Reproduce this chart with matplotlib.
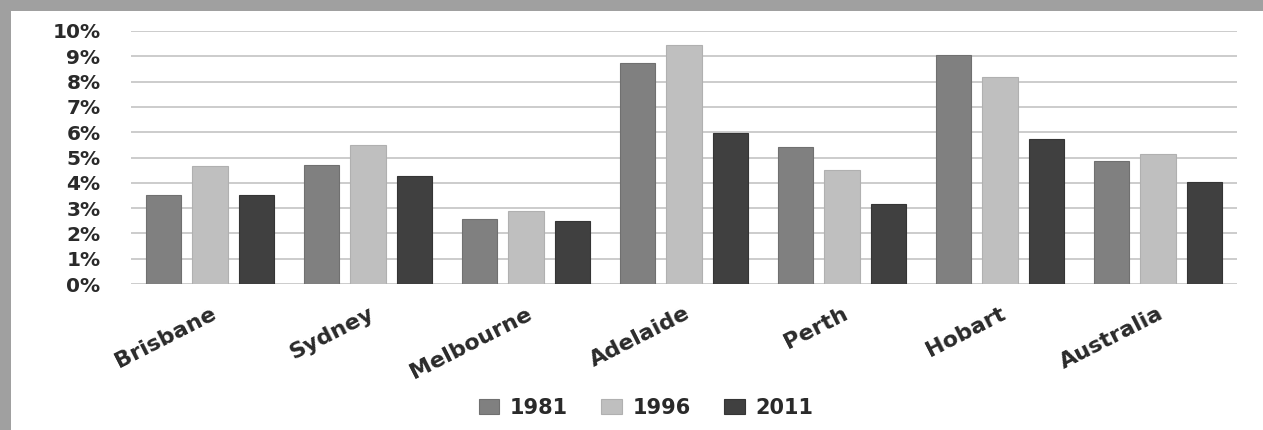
import numpy as np
import matplotlib
matplotlib.use("Agg")
import matplotlib.pyplot as plt
from matplotlib.patches import Rectangle
from matplotlib.ticker import PercentFormatter

# Share of population, by city and census year (%)
cities = ["Brisbane", "Sydney", "Melbourne", "Adelaide", "Perth", "Hobart", "Australia"]
years = ["1981", "1996", "2011"]
share_1981 = [3.5, 4.7, 2.55, 8.75, 5.4, 9.05, 4.85]
share_1996 = [4.65, 5.5, 2.9, 9.45, 4.5, 8.2, 5.15]
share_2011 = [3.5, 4.25, 2.5, 5.95, 3.15, 5.75, 4.05]
yticks = list(range(0, 11))

series = [share_1981, share_1996, share_2011]
colors = ["#808080", "#bfbfbf", "#404040"]
edges = ["#707070", "#b0b0b0", "#353535"]

W, H = 1263, 430
fig = plt.figure(figsize=(W / 100, H / 100), dpi=100, facecolor="#a0a0a0")

# white chart panel inside the grey frame
fig.patches.append(Rectangle((11 / W, 0), 1 - 11 / W, 1 - 11 / H,
                             transform=fig.transFigure, facecolor="white",
                             edgecolor="none", zorder=-10))

ax = fig.add_axes([131 / W, 1 - 284 / H, (1237 - 131) / W, (284 - 31) / H])
ax.set_facecolor("none")

x = np.arange(len(cities))
width = 0.222
offset = 0.297
for i, (vals, c, ec, lab) in enumerate(zip(series, colors, edges, years)):
    ax.bar(x + (i - 1) * offset, vals, width, color=c, edgecolor=ec,
           linewidth=0.8, label=lab, zorder=3)

ax.set_xlim(-0.5, len(cities) - 0.5)
ax.set_ylim(0, 10)
ax.set_yticks(yticks)
ax.yaxis.set_major_formatter(PercentFormatter(decimals=0))
ax.grid(axis="y", color="#c8c8c8", linewidth=1.3, zorder=0)
for s in ax.spines.values():
    s.set_visible(False)

txt = "#2a2a2a"
ax.tick_params(axis="y", length=0, pad=22, labelsize=14.5, labelcolor=txt)
ax.tick_params(axis="x", length=0, pad=14)
for t in ax.get_yticklabels():
    t.set_fontweight("bold")

ax.set_xticks(x)
ax.set_xticklabels(cities, rotation=27, ha="right", va="top",
                   rotation_mode="anchor", fontsize=16, color=txt)
for t in ax.get_xticklabels():
    t.set_fontweight("bold")

handles, labels = ax.get_legend_handles_labels()
leg = fig.legend(handles, labels, loc="center", bbox_to_anchor=(646 / W, 0.051),
                 ncol=3, frameon=False, handlelength=1.0,
                 handleheight=0.7, handletextpad=0.5, columnspacing=1.6,
                 prop={"weight": "bold", "size": 15})
for t in leg.get_texts():
    t.set_color(txt)

fig.savefig("out.png", dpi=100, facecolor=fig.get_facecolor())
